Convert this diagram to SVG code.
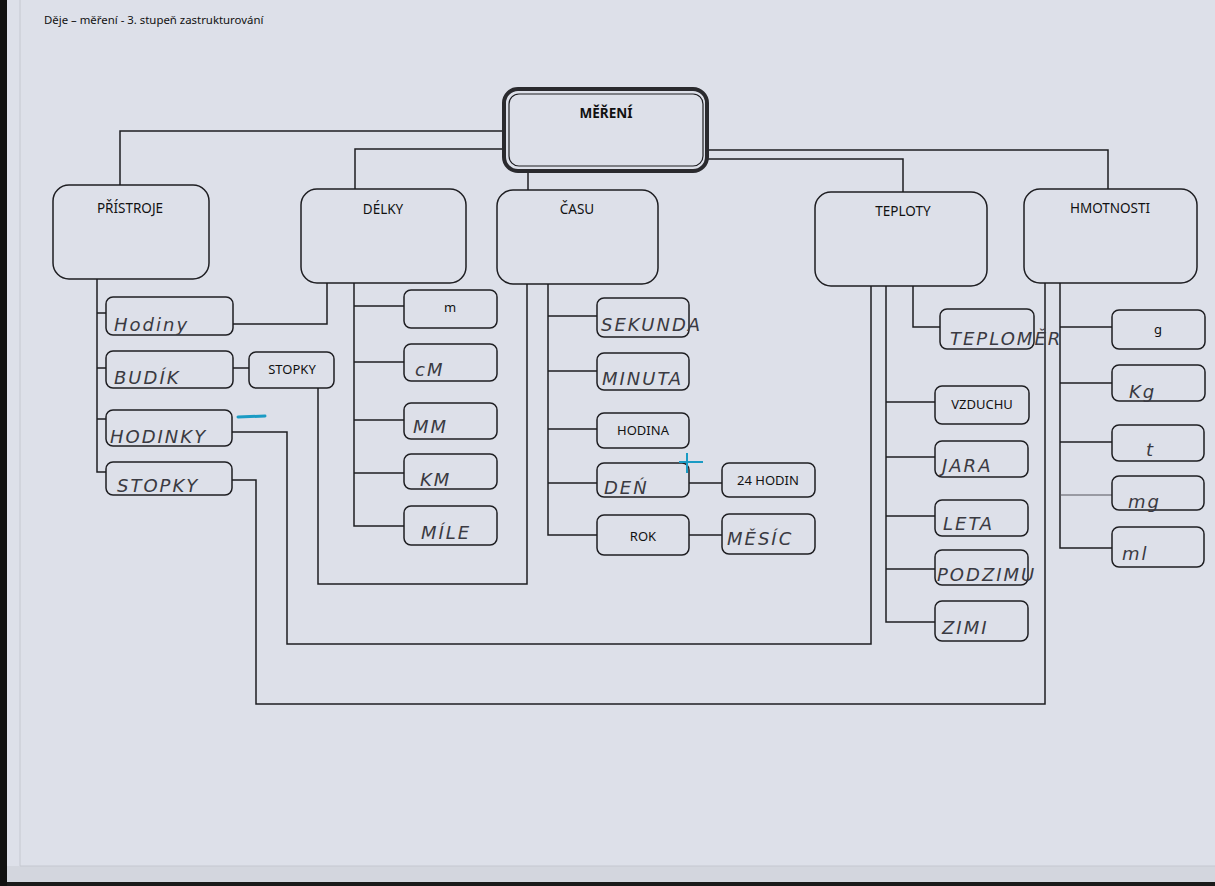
<svg xmlns="http://www.w3.org/2000/svg" width="1215" height="886" viewBox="0 0 1215 886">
<style>
.box{fill:none;stroke:#1e1e22;stroke-width:1.5}
.ln{fill:none;stroke:#1e1e22;stroke-width:1.5}
.pt{font-family:"Noto Sans","Open Sans",sans-serif;font-size:13.5px;fill:#111;text-anchor:middle}
.ps{font-family:"Noto Sans","Open Sans",sans-serif;font-size:13px;fill:#111;text-anchor:middle}
.hw{font-family:"DejaVu Sans","Liberation Sans",sans-serif;font-size:18px;fill:#3a3a42;font-style:italic;letter-spacing:2px}
</style>
<rect x="0" y="0" width="1215" height="886" fill="#dde0e9"/>
<rect x="0" y="866" width="1215" height="20" fill="#d3d6de"/>
<rect x="0" y="882" width="1215" height="4" fill="#1a1a1a"/>
<rect x="0" y="0" width="7" height="886" fill="#111"/>
<line x1="20" y1="0" x2="20" y2="866" stroke="#c5c8d0" stroke-width="1"/>
<line x1="20" y1="866" x2="1215" y2="866" stroke="#c5c8d0" stroke-width="1"/>
<text x="44" y="24" font-family="Noto Sans, Open Sans, sans-serif" font-size="11.4px" fill="#111">Děje – měření - 3. stupeň zastrukturování</text>

<g id="connectors">
<path class="ln" d="M503,131 H120 V185"/>
<path class="ln" d="M503,149 H355 V189"/>
<path class="ln" d="M528,172 V190"/>
<path class="ln" d="M708,150 H1108 V189"/>
<path class="ln" d="M708,159 H903 V192"/>
<path class="ln" d="M97,279 V472 H106 M97,313 H106 M97,368 H106 M97,419 H106"/>
<path class="ln" d="M233,324 H327 V283"/>
<path class="ln" d="M233,368 H249"/>
<path class="ln" d="M318,388 V584 H527 V284"/>
<path class="ln" d="M232,432 H287 V644 H871 V286"/>
<path class="ln" d="M232,480 H256 V704 H1045 V283"/>
<path class="ln" d="M354,283 V526 H404 M354,306 H404 M354,362 H404 M354,420 H404 M354,473 H404"/>
<path class="ln" d="M548,284 V535 H597 M548,316 H597 M548,371 H597 M548,429 H597 M548,483 H597"/>
<path class="ln" d="M689,483 H722 M689,535 H722"/>
<path class="ln" d="M913,286 V327 H940"/>
<path class="ln" d="M886,286 V622 H935 M886,402 H935 M886,457 H935 M886,516 H935 M886,569 H935"/>
<path class="ln" d="M1060,283 V548 H1112 M1060,327 H1112 M1060,383 H1112 M1060,442 H1112"/>
<path d="M1060,495 H1112" fill="none" stroke="#55555c" stroke-width="1"/>
</g>

<g id="mereni">
<rect x="504" y="89" width="203" height="82" rx="14" fill="none" stroke="#2a2a2e" stroke-width="4"/>
<rect x="509" y="94" width="194" height="72" rx="10" fill="none" stroke="#1e1e22" stroke-width="1.2"/>
<text x="606" y="118" class="pt" font-weight="bold" font-size="14px">MĚŘENÍ</text>
</g>

<g id="pristroje"><rect class="box" x="53" y="185" width="156" height="94" rx="16"/><text x="130" y="213" class="pt">PŘÍSTROJE</text></g>
<g id="delky"><rect class="box" x="301" y="189" width="165" height="94" rx="16"/><text x="383" y="214" class="pt">DÉLKY</text></g>
<g id="casu"><rect class="box" x="497" y="190" width="161" height="94" rx="16"/><text x="577" y="214" class="pt">ČASU</text></g>
<g id="teploty"><rect class="box" x="815" y="192" width="172" height="94" rx="16"/><text x="903" y="216" class="pt">TEPLOTY</text></g>
<g id="hmotnosti"><rect class="box" x="1024" y="189" width="173" height="94" rx="16"/><text x="1110" y="213" class="pt">HMOTNOSTI</text></g>

<g id="hodiny"><rect class="box" x="106" y="297" width="127" height="38" rx="7"/><text x="114" y="331" class="hw" font-size="22px" letter-spacing="1px">Hodiny</text></g>
<g id="budik"><rect class="box" x="106" y="351" width="127" height="37" rx="7"/><text x="114" y="384" class="hw" letter-spacing="4px">BUDÍK</text></g>
<g id="stopky-p"><rect class="box" x="249" y="352" width="85" height="36" rx="7"/><text x="292" y="374" class="ps">STOPKY</text></g>
<g id="hodinky"><rect class="box" x="106" y="410" width="126" height="36" rx="7"/><text x="110" y="443" class="hw" font-size="20px" letter-spacing="2.5px" font-style="normal">HODINKY</text>
<line x1="238" y1="417" x2="265" y2="416" stroke="#1a9bc4" stroke-width="3" stroke-linecap="round"/></g>
<g id="stopky-h"><rect class="box" x="106" y="462" width="126" height="33" rx="7"/><text x="117" y="492" class="hw" font-size="17px" letter-spacing="3px">STOPKY</text></g>

<g id="m"><rect class="box" x="404" y="290" width="93" height="38" rx="7"/><text x="450" y="312" class="ps">m</text></g>
<g id="cm"><rect class="box" x="404" y="344" width="93" height="37" rx="7"/><text x="415" y="376" class="hw" font-size="16px">cM</text></g>
<g id="mm"><rect class="box" x="404" y="403" width="93" height="36" rx="7"/><text x="413" y="433" class="hw">MM</text></g>
<g id="km"><rect class="box" x="404" y="454" width="93" height="35" rx="7"/><text x="420" y="486" class="hw">KM</text></g>
<g id="mile"><rect class="box" x="404" y="506" width="93" height="39" rx="7"/><text x="421" y="539" class="hw" letter-spacing="4px">MÍLE</text></g>

<g id="sekunda"><rect class="box" x="597" y="298" width="92" height="39" rx="7"/><text x="601" y="331" class="hw" font-size="17px" letter-spacing="1px">SEKUNDA</text></g>
<g id="minuta"><rect class="box" x="597" y="353" width="92" height="37" rx="7"/><text x="602" y="385" class="hw" font-size="17px" letter-spacing="1.5px">MINUTA</text></g>
<g id="hodina"><rect class="box" x="597" y="413" width="92" height="35" rx="7"/><text x="643" y="435" class="ps">HODINA</text></g>
<g id="den"><rect class="box" x="597" y="463" width="92" height="34" rx="7"/><text x="604" y="494" class="hw" letter-spacing="3px">DEŃ</text>
<path d="M679,462 H703 M687,453 V473" stroke="#1a9bc4" stroke-width="2" fill="none"/></g>
<g id="hodin24"><rect class="box" x="722" y="463" width="93" height="34" rx="7"/><text x="768" y="485" class="ps">24 HODIN</text></g>
<g id="rok"><rect class="box" x="597" y="515" width="92" height="40" rx="7"/><text x="643" y="541" class="ps">ROK</text></g>
<g id="mesic"><rect class="box" x="722" y="514" width="93" height="40" rx="7"/><text x="727" y="545" class="hw" letter-spacing="2px">MĚSÍC</text></g>

<g id="teplomer"><rect class="box" x="940" y="309" width="94" height="40" rx="7"/><text x="950" y="345" class="hw" font-size="16px" letter-spacing="0px">TEPLOMĚR</text></g>
<g id="vzduchu"><rect class="box" x="935" y="386" width="94" height="38" rx="7"/><text x="982" y="409" class="ps">VZDUCHU</text></g>
<g id="jara"><rect class="box" x="935" y="441" width="93" height="36" rx="7"/><text x="942" y="472" class="hw" font-style="normal">JARA</text></g>
<g id="leta"><rect class="box" x="935" y="500" width="93" height="36" rx="7"/><text x="943" y="530" class="hw" font-style="normal">LETA</text></g>
<g id="podzimu"><rect class="box" x="935" y="550" width="93" height="35" rx="7"/><text x="937" y="581" class="hw" font-size="16px" letter-spacing="1px" font-style="normal">PODZIMU</text></g>
<g id="zimi"><rect class="box" x="935" y="601" width="93" height="40" rx="7"/><text x="942" y="634" class="hw" letter-spacing="5px">ZIMI</text></g>

<g id="g"><rect class="box" x="1112" y="310" width="93" height="39" rx="7"/><text x="1158" y="334" class="ps">g</text></g>
<g id="kg"><rect class="box" x="1112" y="365" width="93" height="36" rx="7"/><text x="1129" y="398" class="hw">Kg</text></g>
<g id="t"><rect class="box" x="1112" y="425" width="92" height="36" rx="7"/><text x="1146" y="456" class="hw">t</text></g>
<g id="mg"><rect class="box" x="1112" y="476" width="92" height="34" rx="7"/><text x="1128" y="508" class="hw" font-size="16px">mg</text></g>
<g id="ml"><rect class="box" x="1112" y="527" width="92" height="40" rx="7"/><text x="1122" y="560" class="hw" font-size="14px" fill="#8a8d96">ml</text></g>
</svg>
